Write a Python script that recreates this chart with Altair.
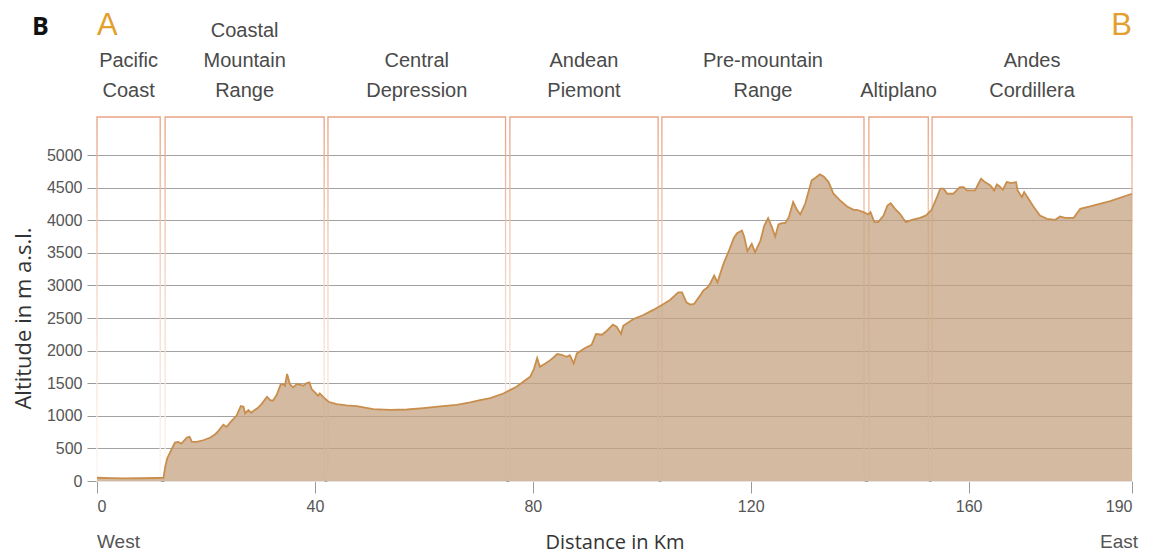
import altair as alt
import pandas as pd

# ---------------- data ----------------
km = [0, 2.5, 4.8, 8, 11, 12.2, 12.5, 12.9, 13.7, 14.3, 14.9, 15.5, 16.5, 17.0, 17.4, 18.3, 19.5, 20.8,
      21.7, 22.3, 23.2, 23.8, 24.7, 25.6, 26.4, 26.9, 27.2, 27.8, 28.3, 28.9, 29.5, 30.2, 31.2, 31.8,
      32.3, 33.0, 33.7, 34.2, 34.5, 34.9, 35.4, 36.0, 36.7, 37.3, 37.9, 38.4, 39.0, 39.4, 40.0, 40.6,
      40.9, 41.6, 42.5, 44.0, 45.8, 47.7, 50.7, 53.8, 56.9, 59.9, 63.0, 66.0, 68.5, 70.3, 72.2, 74.6,
      77.0, 79.5, 80.2, 80.8, 81.3, 82.3, 83.2, 83.8, 84.5, 85.3, 86.2, 86.8, 87.5, 88.1, 89.6, 90.8,
      91.6, 92.7, 93.6, 94.7, 95.4, 96.2, 96.6, 98.5, 100.3, 102.2, 104.0, 105.2, 106.7, 107.4, 108.2,
      108.9, 109.6, 110.7, 111.3, 112.1, 112.6, 113.3, 113.9, 115.0, 115.9, 116.9, 117.5, 118.4, 118.8,
      119.4, 120.2, 120.8, 121.8, 122.5, 123.2, 123.9, 124.5, 125.1, 125.7, 126.3, 127.0, 127.8, 128.5,
      129.1, 130.0, 131.2, 131.9, 132.7, 133.4, 134.3, 135.2, 136.4, 137.7, 138.9, 139.5, 140.7, 141.6,
      142.0, 142.7, 143.4, 144.4, 145.1, 145.7, 146.5, 147.4, 148.5, 149.6, 151.1, 152.2, 153.2, 154.2,
      154.8, 155.4, 156.1, 157.2, 157.8, 158.4, 159.1, 159.7, 161.2, 161.8, 162.3, 163.0, 164.0, 164.7,
      165.2, 165.7, 166.3, 167.0, 167.9, 168.7, 169.0, 169.3, 169.8, 170.2, 171.0, 171.9, 173.1, 174.4,
      175.9, 176.8, 177.7, 179.3, 180.5, 182.3, 186.0, 190.0]

altitude = [50, 45, 40, 42, 46, 48, 205, 350, 487, 590, 600, 574, 667, 677, 605, 600, 625, 667,
            718, 769, 862, 830, 923, 1000, 1149, 1138, 1036, 1087, 1046, 1087, 1118, 1180, 1292, 1241,
            1231, 1323, 1477, 1487, 1461, 1641, 1487, 1436, 1487, 1477, 1461, 1497, 1513, 1410, 1359, 1308,
            1344, 1282, 1215, 1179, 1159, 1149, 1103, 1092, 1097, 1118, 1144, 1169, 1205, 1241, 1270, 1342,
            1445, 1598, 1716, 1885, 1752, 1803, 1854, 1895, 1947, 1936, 1906, 1931, 1803, 1957, 2039, 2090,
            2254, 2244, 2305, 2398, 2367, 2254, 2382, 2485, 2546, 2628, 2715, 2777, 2894, 2894, 2741,
            2705, 2715, 2843, 2920, 2971, 3033, 3150, 3048, 3330, 3509, 3729, 3801, 3842, 3750,
            3525, 3637, 3509, 3688, 3919, 4032, 3893, 3750, 3934, 3955, 3955, 4047, 4278, 4160,
            4088, 4252, 4611, 4652, 4703, 4672, 4585, 4406, 4303, 4211, 4160, 4160, 4124, 4088,
            4124, 3970, 3970, 4073, 4226, 4262, 4175, 4098, 3970, 4006, 4037, 4073, 4160, 4354,
            4483, 4483, 4406, 4406, 4457, 4508, 4508, 4457, 4457, 4559, 4636, 4585, 4534, 4457,
            4549, 4518, 4467, 4585, 4570, 4585, 4457, 4416, 4354, 4431, 4329, 4211, 4073, 4022,
            4006, 4057, 4037, 4037, 4175, 4211, 4293, 4406]

region_names = ["Pacific\nCoast", "Coastal\nMountain\nRange", "Central\nDepression",
                "Andean\nPiemont", "Pre-mountain\nRange", "Altiplano", "Andes\nCordillera"]
region_start = [0, 12.5, 42.4, 75.8, 103.7, 141.7, 153.3]
region_end = [11.6, 41.7, 75.0, 103.0, 140.8, 152.6, 190]

x_ticks = [0, 40, 80, 120, 160, 190]
y_ticks = [0, 500, 1000, 1500, 2000, 2500, 3000, 3500, 4000, 4500, 5000]

end_labels = ["A", "B"]
end_km = [0, 190]
direction_labels = ["West", "East"]
panel_label = ["B"]

profile = pd.DataFrame({"km": km, "alt": altitude})
regions = pd.DataFrame({"name": region_names, "start": region_start, "end": region_end})
ends = pd.DataFrame({"label": end_labels, "km": end_km, "dir": direction_labels})
panel = pd.DataFrame({"t": panel_label})

# ---------------- layout / style ----------------
W, H = 1035, 364
SANS = "Liberation Sans, Arial, sans-serif"
OPEN = "Open Sans, sans-serif"
LABEL_SIZE = 20
LINE_H = 30
BOTTOM_Y = 61

x_scale = alt.Scale(domain=[0, 190], nice=False, zero=False)
y_scale = alt.Scale(domain=[0, 5583], nice=False)

x_axis = alt.Axis(values=x_ticks, grid=False, domain=False, tickSize=12, tickColor="#9a9a9a",
                  labelPadding=5, labelFont=SANS, labelFontSize=16, labelColor="#555555",
                  labelOverlap=False, format="d",
                  title="Distance in Km", titleFont=OPEN, titleFontSize=20, titleFontWeight="normal",
                  titleColor="#333333", titleY=BOTTOM_Y, titleBaseline="middle")
y_axis = alt.Axis(values=y_ticks, grid=True, gridColor="#a2a2a2", gridWidth=1, domain=False,
                  tickSize=10, tickColor="#9a9a9a", labelPadding=5, labelFont=SANS,
                  labelFontSize=16, labelColor="#555555", labelOverlap=False, format="d",
                  title="Altitude in m a.s.l.", titleFont=OPEN, titleFontSize=22,
                  titleFontWeight="normal", titleColor="#333333", titleX=-74, titleY=201,
                  titleAngle=270, titleAlign="center", titleBaseline="middle")


def xq(field):
    return alt.X(field, type="quantitative", scale=x_scale, axis=x_axis)


def yq(field):
    return alt.Y(field, type="quantitative", scale=y_scale, axis=y_axis)


box_gradient = alt.LinearGradient(
    gradient="linear",
    stops=[alt.GradientStop(offset=0, color="#E9A283"),
           alt.GradientStop(offset=0.35, color="#F1CBB6"),
           alt.GradientStop(offset=1, color="#FDF7F3")],
    x1=0, x2=0, y1=0, y2=1,
)

boxes = alt.Chart(regions).mark_rect(fill="transparent", stroke=box_gradient, strokeWidth=1.3).encode(
    x=xq("start"),
    x2="end:Q",
    y=alt.value(0),
    y2=alt.value(H),
)

area = alt.Chart(profile).mark_area(color="#C3A280", opacity=0.74).encode(x=xq("km"), y=yq("alt"))
line = alt.Chart(profile).mark_line(color="#C98E4C", strokeWidth=1.8).encode(x=xq("km"), y=yq("alt"))

region_layers = []
for n_lines in (1, 2, 3):
    region_layers.append(
        alt.Chart(regions)
        .transform_calculate(mid="(datum.start + datum.end) / 2",
                             n="length(split(datum.name, '\\n'))")
        .transform_filter(f"datum.n == {n_lines}")
        .mark_text(align="center", baseline="alphabetic", lineBreak="\n", lineHeight=LINE_H,
                   font=SANS, fontSize=LABEL_SIZE, color="#4a4a4a")
        .encode(x=xq("mid"), y=alt.value(-20 - (n_lines - 1) * LINE_H), text="name:N")
    )

a_text = alt.Chart(ends).transform_filter("datum.label == 'A'").mark_text(
    align="left", baseline="alphabetic", font=SANS, fontSize=31, color="#E3A02E").encode(
    x=xq("km"), y=alt.value(-82), text="label:N")
b_text = alt.Chart(ends).transform_filter("datum.label == 'B'").mark_text(
    align="right", baseline="alphabetic", font=SANS, fontSize=31, color="#E3A02E").encode(
    x=xq("km"), y=alt.value(-82), text="label:N")

west_text = alt.Chart(ends).transform_filter("datum.dir == 'West'").mark_text(
    align="left", baseline="middle", font=SANS, fontSize=19, color="#555555").encode(
    x=xq("km"), y=alt.value(H + BOTTOM_Y), text="dir:N")
east_text = alt.Chart(ends).transform_filter("datum.dir == 'East'").mark_text(
    align="right", baseline="middle", font=SANS, fontSize=19, color="#555555", dx=6).encode(
    x=xq("km"), y=alt.value(H + BOTTOM_Y), text="dir:N")

panel_text = alt.Chart(panel).mark_text(
    align="left", baseline="alphabetic", font=OPEN, fontWeight="bold", fontSize=25, color="#111111").encode(
    x=alt.value(-65), y=alt.value(-82), text="t:N")

chart = alt.layer(
    boxes, area, line, *region_layers, a_text, b_text, west_text, east_text, panel_text
).properties(
    width=W, height=H,
    autosize=alt.AutoSizeParams(type="none"),
    padding={"left": 89, "top": 109, "right": 12, "bottom": 76},
    background="white",
).configure_view(strokeWidth=0)

chart.save("out.html", embed_options={"renderer": "svg", "actions": False})
